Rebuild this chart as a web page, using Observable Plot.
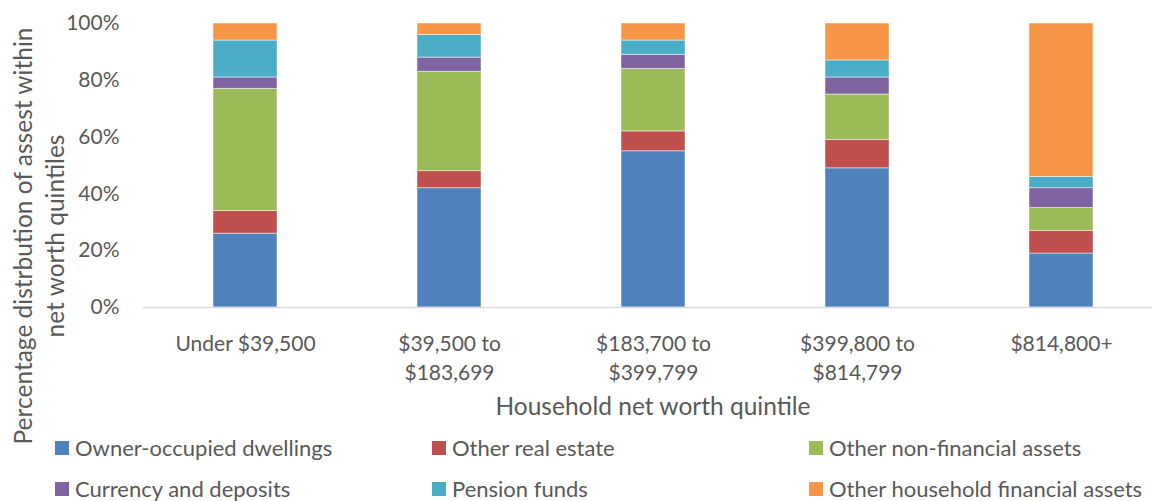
<!DOCTYPE html>
<html>
<head>
<meta charset="utf-8">
<script src="https://cdn.jsdelivr.net/npm/d3@7"></script>
<script src="https://cdn.jsdelivr.net/npm/@observablehq/plot@0.6"></script>
<style>
  html, body { margin: 0; padding: 0; background: #fff; }
  #wrap { position: relative; width: 1152px; height: 501px; font-family: Lato, "Open Sans", sans-serif; color: #595959; overflow: hidden; }
  #chart { position: absolute; left: 0; top: 0; }
  .ytitle { position: absolute; left: 39px; top: 236px; transform: translate(-50%, -50%) rotate(-90deg); font-size: 24.5px; line-height: 32px; text-align: center; white-space: nowrap; }
  .xtitle { position: absolute; left: 653px; top: 406px; transform: translate(-50%, -50%); font-size: 24.5px; line-height: 1; white-space: nowrap; }
  .leg { position: absolute; display: flex; align-items: center; font-size: 22px; line-height: 1; white-space: nowrap; transform: translateY(-50%); }
  .leg .sw { width: 14px; height: 14px; margin-right: 6px; }
</style>
</head>
<body>
<div id="wrap">
  <div id="chart"></div>
  <div class="ytitle">Percentage distrbution of assest within<br>net worth quintiles</div>
  <div class="xtitle">Household net worth quintile</div>
  <div id="legend"></div>
</div>
<script>
// Categories (household net worth quintiles)
const quintiles = ["Under $39,500", "$39,500 to $183,699", "$183,700 to $399,799", "$399,800 to $814,799", "$814,800+"];
const quintileTickLabels = ["Under $39,500", "$39,500 to\n$183,699", "$183,700 to\n$399,799", "$399,800 to\n$814,799", "$814,800+"];

// Series (percent of assets)
const seriesNames = ["Owner-occupied dwellings", "Other real estate", "Other non-financial assets", "Currency and deposits", "Pension funds", "Other household financial assets"];
const ownerOccupied      = [26, 42, 55, 49, 19];
const otherRealEstate    = [8, 6, 7, 10, 8];
const otherNonFinancial  = [43, 35, 22, 16, 8];
const currencyDeposits   = [4, 5, 5, 6, 7];
const pensionFunds       = [13, 8, 5, 6, 4];
const otherFinancial     = [6, 4, 6, 13, 54];

const seriesColors = ["#4F81BD", "#C0504D", "#9BBB59", "#8064A2", "#4BACC6", "#F79646"];
const yTicks = [0, 20, 40, 60, 80, 100];

const seriesValues = [ownerOccupied, otherRealEstate, otherNonFinancial, currencyDeposits, pensionFunds, otherFinancial];
const rows = [];
seriesNames.forEach((s, si) => {
  quintiles.forEach((q, qi) => rows.push({quintile: q, series: s, value: seriesValues[si][qi]}));
});
const tickLabelOf = new Map(quintiles.map((q, i) => [q, quintileTickLabels[i]]));

const chart = Plot.plot({
  width: 1152,
  height: 425,
  marginLeft: 143,
  marginRight: 0,
  marginTop: 23,
  marginBottom: 118,
  style: {fontFamily: "Lato, 'Open Sans', sans-serif", color: "#595959", background: "#fff"},
  x: {domain: quintiles, range: [143, 1163], paddingInner: 0.6863, paddingOuter: 0.3431, label: null},
  y: {domain: [0, 100], label: null},
  color: {domain: seriesNames, range: seriesColors},
  marks: [
    Plot.barY(rows, Plot.stackY({order: seriesNames, x: "quintile", y: "value", fill: "series", stroke: "#ffffff", strokeWidth: 0.8, strokeOpacity: 0.6})),
    Plot.ruleY([0], {stroke: "#d9d9d9", strokeWidth: 1.5}),
    Plot.axisY({ticks: yTicks, tickSize: 0, tickPadding: 24, tickFormat: d => d + "%", fontSize: 21, fill: "#595959", label: null}),
    Plot.axisX({tickSize: 0, tickPadding: 23, tickFormat: d => tickLabelOf.get(d), fontSize: 21, lineHeight: 1.38, fill: "#595959", label: null})
  ]
});
document.getElementById("chart").appendChild(chart);

// Legend (HTML below plot area)
const legendPos = [[55, 448], [432, 448], [809, 448], [55, 489], [432, 489], [809, 489]];
const legend = document.getElementById("legend");
seriesNames.forEach((s, i) => {
  const item = document.createElement("div");
  item.className = "leg";
  item.style.left = legendPos[i][0] + "px";
  item.style.top = legendPos[i][1] + "px";
  const sw = document.createElement("span");
  sw.className = "sw";
  sw.style.background = seriesColors[i];
  const t = document.createElement("span");
  t.textContent = s;
  item.appendChild(sw);
  item.appendChild(t);
  legend.appendChild(item);
});
</script>
</body>
</html>
